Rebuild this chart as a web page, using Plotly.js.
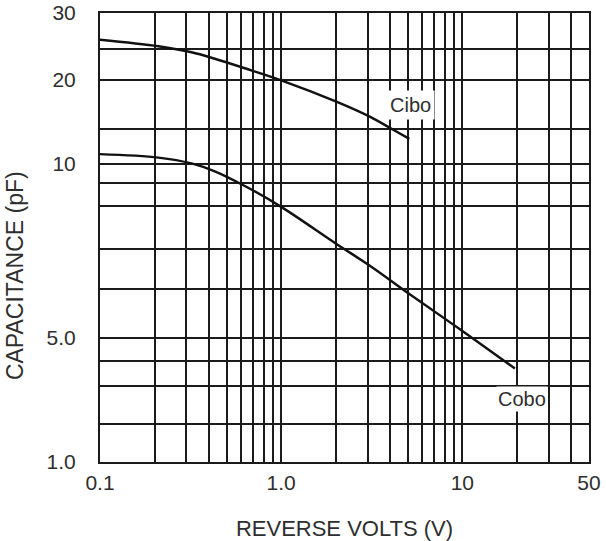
<!DOCTYPE html>
<html><head><meta charset="utf-8">
<script src="https://cdn.plot.ly/plotly-3.0.1.min.js"></script>
<style>html,body{margin:0;padding:0;background:#fff}#chart{width:606px;height:541px}</style>
</head><body><div id="chart"></div>
<script>
// ---- data (volts, pF) ----
const voltsCibo = [0.1, 0.21, 0.32, 0.43, 0.63, 1.0, 2.0, 3.1, 4.2, 5.1];
const cibo      = [26.31, 25.41, 24.51, 23.46, 21.92, 19.98, 17.82, 16.23, 14.79, 13.57];
const voltsCobo = [0.1, 0.21, 0.32, 0.43, 0.63, 1.0, 2.0, 3.1, 5.1, 9.7, 19.5];
const cobo      = [11.39, 10.90, 10.07, 9.61, 8.87, 7.99, 7.12, 6.57, 5.90, 5.18, 3.70];

// ---- axis grid values and tick labels ----
const xGridVals = [0.1,0.2,0.3,0.4,0.5,0.6,0.7,0.8,0.9,1,2,3,4,5,6,7,8,9,10,20,30,40,50];
const xTickLabels = {"0.1":"0.1", "1":"1.0", "10":"10", "50":"50"};
const yGridVals = [1,2,3,4,5,6,7,8,9,10,15,20,25,30];
const yTickLabels = {"1":"1.0", "5":"5.0", "10":"10", "20":"20", "30":"30"};
// calibration of the chart's printed (non-uniform) capacitance scale: fraction of axis height
const yScaleCal = [0, 0.0841, 0.1688, 0.2252, 0.2759, 0.3851, 0.4755, 0.5691, 0.6215, 0.6639, 0.7420, 0.8506, 0.9193, 1.0];

function capToAxis(v) {
  for (let i = 0; i < yGridVals.length - 1; i++) {
    const a = yGridVals[i], b = yGridVals[i + 1];
    if (v >= a && v <= b) {
      return yScaleCal[i] + (v - a) / (b - a) * (yScaleCal[i + 1] - yScaleCal[i]);
    }
  }
  return v < yGridVals[0] ? 0 : 1;
}

const ink = '#1b1b1b';
const txt = '#2e2e2e';
const fontFam = '"Liberation Sans", Arial, Helvetica, sans-serif';

const traces = [
  { x: voltsCibo, y: cibo.map(capToAxis), customdata: cibo, name: 'Cibo', mode: 'lines',
    line: { color: '#111', width: 2.4, shape: 'spline', smoothing: 1 },
    hovertemplate: '%{x} V, %{customdata} pF<extra>Cibo</extra>' },
  { x: voltsCobo, y: cobo.map(capToAxis), customdata: cobo, name: 'Cobo', mode: 'lines',
    line: { color: '#111', width: 2.4, shape: 'spline', smoothing: 1 },
    hovertemplate: '%{x} V, %{customdata} pF<extra>Cobo</extra>' }
];

const layout = {
  width: 606, height: 541,
  margin: { l: 100, r: 17, t: 13, b: 79 },
  paper_bgcolor: '#fff', plot_bgcolor: '#fff',
  showlegend: false,
  font: { family: fontFam, color: txt, size: 20 },
  xaxis: {
    type: 'log', range: [-1, Math.log10(50)],
    tickmode: 'array', tickvals: xGridVals,
    ticktext: xGridVals.map(v => xTickLabels[String(v)] || ''),
    showgrid: true, gridcolor: ink, gridwidth: 2,
    showline: true, linecolor: ink, linewidth: 2, mirror: true,
    ticks: '', ticklabelstandoff: 1,
    tickfont: { family: fontFam, size: 21, color: txt },
    title: { text: 'REVERSE VOLTS (V)', font: { family: fontFam, size: 22, color: txt }, standoff: 29 },
    zeroline: false
  },
  yaxis: {
    type: 'linear', range: [0, 1],
    tickmode: 'array', tickvals: yScaleCal,
    ticktext: yGridVals.map(v => yTickLabels[String(v)] || ''),
    showgrid: true, gridcolor: ink, gridwidth: 2,
    showline: true, linecolor: ink, linewidth: 2, mirror: true,
    ticks: '', ticklabelstandoff: 18,
    tickfont: { family: fontFam, size: 21, color: txt },
    zeroline: false
  },
  annotations: [
    { text: 'Cibo', xref: 'x', yref: 'y', x: Math.log10(5.2), y: 0.794, showarrow: false,
      bgcolor: '#fff', borderpad: 3, font: { family: fontFam, size: 20, color: txt } },
    { text: 'Cobo', xref: 'x', yref: 'y', x: Math.log10(21.3), y: 0.141, showarrow: false,
      bgcolor: '#fff', borderpad: 1, font: { family: fontFam, size: 20, color: txt } },
    { text: 'CAPACITANCE (pF)', xref: 'paper', yref: 'paper', x: -0.175, y: 0.415,
      xanchor: 'center', yanchor: 'middle', textangle: -90, showarrow: false,
      font: { family: fontFam, size: 23, color: txt } }
  ]
};

Plotly.newPlot('chart', traces, layout, { displayModeBar: false, responsive: false });
</script>
</body></html>
